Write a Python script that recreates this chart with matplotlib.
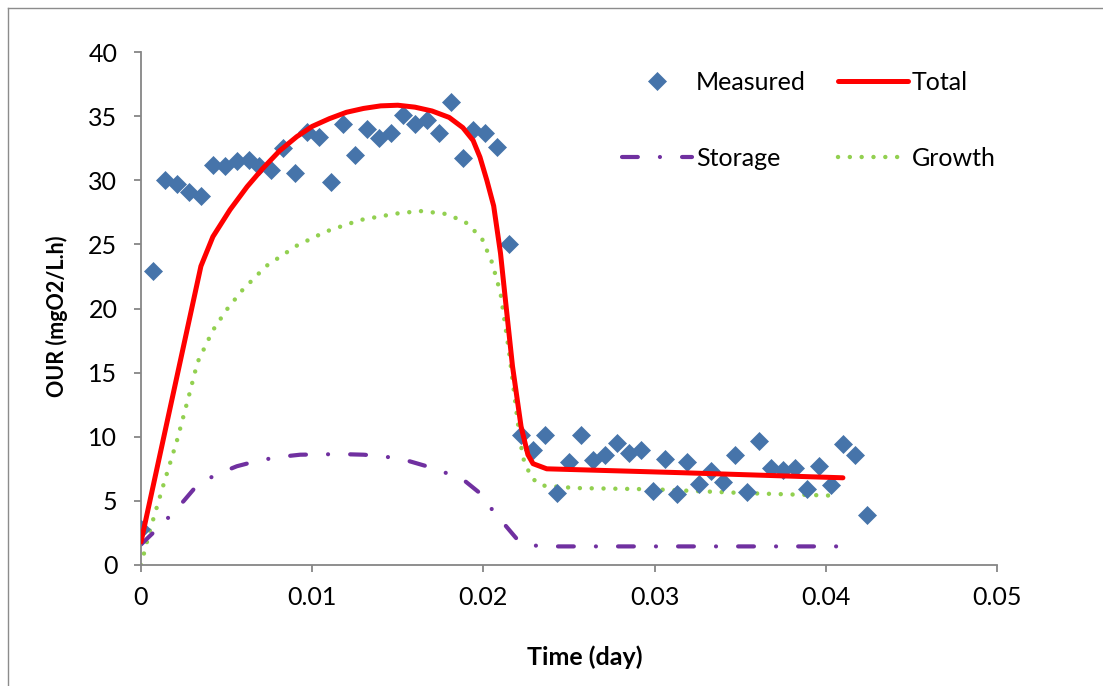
import matplotlib
matplotlib.use("Agg")
import matplotlib.pyplot as plt
from matplotlib.lines import Line2D

plt.rcParams['font.family'] = ['Lato', 'DejaVu Sans']

# Measured OUR (one reading per minute, time in days)
meas_x = [0.0000, 0.0007, 0.0014, 0.0021, 0.0028, 0.0035, 0.0042, 0.0049, 0.0056, 0.0063,
          0.0069, 0.0076, 0.0083, 0.0090, 0.0097, 0.0104, 0.0111, 0.0118, 0.0125, 0.0132,
          0.0139, 0.0146, 0.0153, 0.0160, 0.0167, 0.0174, 0.0181, 0.0188, 0.0194, 0.0201,
          0.0208, 0.0215, 0.0222, 0.0229, 0.0236, 0.0243, 0.0250, 0.0257, 0.0264, 0.0271,
          0.0278, 0.0285, 0.0292, 0.0299, 0.0306, 0.0313, 0.0319, 0.0326, 0.0333, 0.0340,
          0.0347, 0.0354, 0.0361, 0.0368, 0.0375, 0.0382, 0.0389, 0.0396, 0.0403, 0.0410,
          0.0417, 0.0424]
meas_y = [2.8, 22.9, 30.0, 29.7, 29.1, 28.8, 31.2, 31.1, 31.5, 31.6,
          31.1, 30.8, 32.5, 30.6, 33.8, 33.4, 29.9, 34.4, 32.0, 34.0,
          33.3, 33.7, 35.1, 34.4, 34.7, 33.7, 36.1, 31.7, 33.9, 33.7,
          32.6, 25.0, 10.1, 9.0, 10.1, 5.6, 8.0, 10.1, 8.2, 8.6,
          9.5, 8.7, 9.0, 5.8, 8.3, 5.5, 8.0, 6.3, 7.3, 6.5,
          8.6, 5.7, 9.7, 7.6, 7.4, 7.6, 5.9, 7.7, 6.2, 9.4,
          8.6, 3.9]

# Model: total OUR
total_x = [0.0000, 0.0035, 0.0042, 0.0052, 0.0062, 0.0071, 0.0081, 0.0091, 0.0100, 0.0110,
           0.0120, 0.0130, 0.0140, 0.0150, 0.0160, 0.0170, 0.0180, 0.0188, 0.0194, 0.0198,
           0.0202, 0.0206, 0.0210, 0.0213, 0.0217, 0.0222, 0.0226, 0.0229, 0.0237, 0.0315,
           0.0410]
total_y = [1.8, 23.3, 25.6, 27.7, 29.5, 30.9, 32.3, 33.4, 34.2, 34.8,
           35.3, 35.6, 35.8, 35.85, 35.7, 35.4, 34.9, 34.1, 33.1, 31.8,
           30.0, 28.0, 24.3, 20.5, 15.5, 10.8, 8.6, 7.9, 7.5, 7.2,
           6.8]

# Model: storage OUR
storage_x = [0.0000, 0.0007, 0.0016, 0.0025, 0.0032, 0.0043, 0.0056, 0.0066, 0.0079, 0.0093,
             0.0104, 0.0116, 0.0130, 0.0140, 0.0153, 0.0171, 0.0188, 0.0198, 0.0204, 0.0213,
             0.0221, 0.0227, 0.0235, 0.0410]
storage_y = [1.6, 2.5, 3.7, 5.0, 6.1, 7.0, 7.7, 8.05, 8.4, 8.6,
             8.62, 8.65, 8.6, 8.5, 8.24, 7.54, 6.68, 5.6, 4.5, 3.06,
             1.8, 1.56, 1.45, 1.45]

# Model: growth OUR
growth_x = [0.0000, 0.0005, 0.0013, 0.0021, 0.0028, 0.0033, 0.0042, 0.0050, 0.0059, 0.0073,
            0.0091, 0.0108, 0.0128, 0.0149, 0.0163, 0.0177, 0.0189, 0.0199, 0.0205, 0.0210,
            0.0215, 0.0220, 0.0223, 0.0228, 0.0234, 0.0254, 0.0300, 0.0354, 0.0406]
growth_y = [0.0, 2.6, 6.2, 9.7, 13.2, 15.8, 18.3, 19.9, 21.4, 23.3,
            24.9, 26.0, 26.9, 27.4, 27.6, 27.4, 26.8, 25.5, 23.6, 21.2,
            16.6, 11.2, 8.4, 6.8, 6.2, 6.0, 5.9, 5.6, 5.4]

x_ticks = [0, 0.01, 0.02, 0.03, 0.04, 0.05]
x_tick_labels = ["0", "0.01", "0.02", "0.03", "0.04", "0.05"]
y_ticks = [0, 5, 10, 15, 20, 25, 30, 35, 40]

W, H = 1103, 686
fig = plt.figure(figsize=(W / 100, H / 100), dpi=100)
ax = fig.add_axes([141 / W, 1 - 565 / H, (997 - 141) / W, (565 - 52) / H])

# chart area border (left and top visible)
fig.add_artist(Line2D([8 / W, 8 / W], [0, 1 - 8 / H], transform=fig.transFigure,
                      color='#8c8c8c', lw=1.0))
fig.add_artist(Line2D([8 / W, 1], [1 - 8 / H, 1 - 8 / H], transform=fig.transFigure,
                      color='#8c8c8c', lw=1.0))

blue = '#4674AA'
red = '#FF0000'
purple = '#7030A0'
green = '#92D050'

ax.plot(growth_x, growth_y, color=green, lw=3.2, linestyle=(0, (0.01, 2.65)),
        dash_capstyle='round', label='Growth', zorder=2)
ax.plot(storage_x, storage_y, color=purple, lw=3.0, linestyle=(0, (3.8, 5.3, 0.01, 5.3)),
        dash_capstyle='round', label='Storage', zorder=2)
ax.plot(meas_x, meas_y, linestyle='none', marker='D', markersize=9.2, color=blue,
        markeredgecolor=blue, markeredgewidth=0.5, label='Measured', zorder=3)
ax.plot(total_x, total_y, color=red, lw=3.6, solid_capstyle='round',
        solid_joinstyle='round', label='Total', zorder=4)

ax.set_xlim(0, 0.05)
ax.set_ylim(0, 40)
ax.set_xticks(x_ticks)
ax.set_xticklabels(x_tick_labels)
ax.set_yticks(y_ticks)

for s in ['top', 'right']:
    ax.spines[s].set_visible(False)
for s in ['left', 'bottom']:
    ax.spines[s].set_color('#868686')
    ax.spines[s].set_linewidth(1.3)
ax.tick_params(axis='both', direction='out', length=5, width=1.3, color='#868686',
               labelsize=18, labelcolor='black')
ax.tick_params(axis='x', pad=10)
ax.tick_params(axis='y', pad=12)

fig.text(57 / W, 1 - 316 / H, 'OUR (mgO2/L.h)', rotation=90, ha='center', va='center',
         fontsize=15.5, fontweight='bold')
fig.text(585 / W, 1 - 657 / H, 'Time (day)', ha='center', va='center',
         fontsize=18, fontweight='bold')

h = {l.get_label(): l for l in ax.get_lines()}
order = ['Measured', 'Storage', 'Total', 'Growth']
leg = ax.legend([h[k] for k in order], order, ncol=2, frameon=False,
                loc='upper left', bbox_to_anchor=(622 / W, 1 - 71 / H),
                bbox_transform=fig.transFigure, fontsize=18,
                handlelength=2.8, handletextpad=0.15, columnspacing=1.3,
                labelspacing=2.1, borderpad=0, borderaxespad=0)

fig.savefig('out.png', dpi=100)
